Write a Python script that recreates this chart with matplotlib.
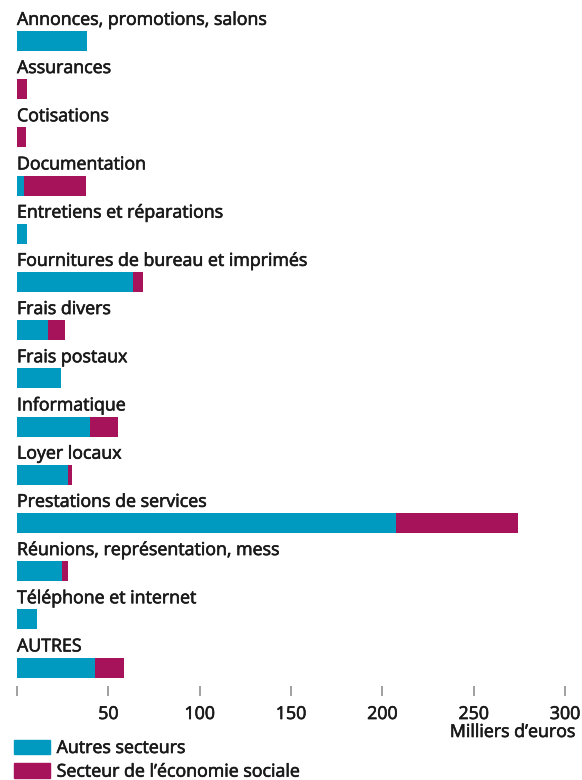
import matplotlib
matplotlib.use("Agg")
import matplotlib.pyplot as plt
import matplotlib.patheffects as pe
from matplotlib.patches import Patch

categories = ["Annonces, promotions, salons", "Assurances", "Cotisations", "Documentation",
              "Entretiens et réparations", "Fournitures de bureau et imprimés", "Frais divers",
              "Frais postaux", "Informatique", "Loyer locaux", "Prestations de services",
              "Réunions, représentation, mess", "Téléphone et internet", "AUTRES"]
autres_secteurs = [38.3, 0, 0, 3.8, 5.5, 63.5, 17, 24, 40, 28, 207.4, 24.6, 11, 42.7]
economie_sociale = [0, 5.5, 5, 34, 0, 5.5, 9.3, 0, 15.3, 2.1, 66.8, 3.4, 0, 15.9]
xticks = [0, 50, 100, 150, 200, 250, 300]
xticklabels = ["", "50", "100", "150", "200", "250", "300"]
series_names = ["Autres secteurs", "Secteur de l’économie sociale"]

teal = "#009AC0"
purple = "#A6135B"
txt = "#1a1a1a"
plt.rcParams["font.family"] = ["Open Sans", "DejaVu Sans"]
FS = 12.8
bold_fx = [pe.withStroke(linewidth=0.45, foreground=txt)]

W, H = 582, 780
fig = plt.figure(figsize=(W / 100, H / 100), dpi=100)
top_px, bottom_px = 0, 686
left_px, right_px = 17, 565
ax = fig.add_axes([left_px / W, 1 - bottom_px / H, (right_px - left_px) / W, (bottom_px - top_px) / H])

row0, step = 41, 48.2
ax.set_ylim((bottom_px - row0) / step, (top_px - row0) / step)
ax.set_xlim(0, 300)

ys = list(range(len(categories)))
bh = 20 / step
ax.barh(ys, autres_secteurs, height=bh, color=teal, label=series_names[0])
ax.barh(ys, economie_sociale, left=autres_secteurs, height=bh, color=purple, label=series_names[1])
for y, c in zip(ys, categories):
    ax.text(0, y - 0.335, c, ha="left", va="baseline", fontsize=FS, color=txt, path_effects=bold_fx)

for s in ax.spines.values():
    s.set_visible(False)
ax.set_yticks([])
ax.set_xticks(xticks)
ax.set_xticklabels(xticklabels, fontsize=FS, color=txt)
for t in ax.get_xticklabels():
    t.set_path_effects(bold_fx)
ax.tick_params(axis="x", length=7.2, width=1.3, color="#999999", pad=6.5)

fig.text(575 / W, 1 - 732 / H, "Milliers d’euros", ha="right", va="center", fontsize=FS, color=txt,
         path_effects=bold_fx)

handles = [Patch(color=teal), Patch(color=purple)]
leg = fig.legend(handles, series_names, loc="upper left", bbox_to_anchor=(14 / W, 1 - 739 / H),
                 frameon=False, prop={"size": FS}, handlelength=2.0, handleheight=0.85,
                 handletextpad=0.4, labelspacing=0.32, borderaxespad=0, borderpad=0)
for t in leg.get_texts():
    t.set_color(txt)
    t.set_path_effects(bold_fx)

fig.savefig("out.png", dpi=100)
